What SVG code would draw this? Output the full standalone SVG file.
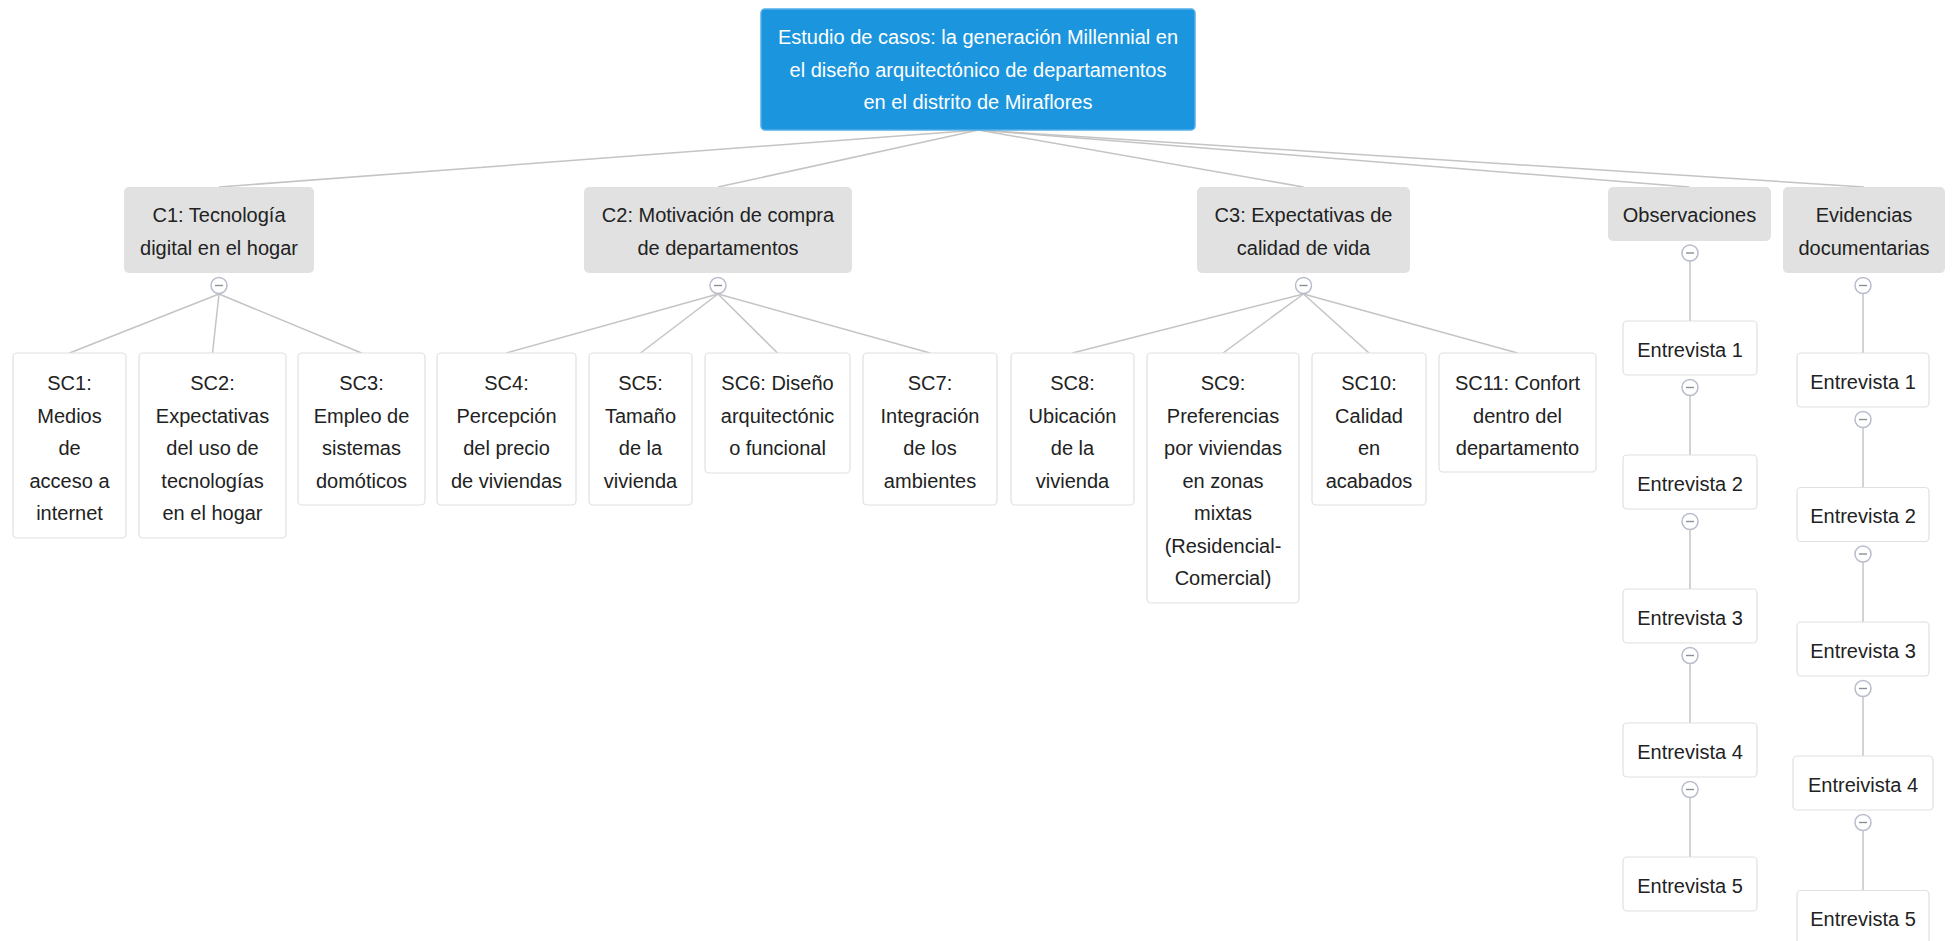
<svg xmlns="http://www.w3.org/2000/svg" width="1955" height="941" viewBox="0 0 1955 941">
<style>
  text { font-family: "Liberation Sans", Arial, sans-serif; font-size: 20px; text-anchor: middle; fill: #222; }
  .root rect { fill: #1b95dd; stroke: #52aee8; stroke-width: 1.5; }
  .root text { fill: #ffffff; }
  .cat rect { fill: #e1e1e1; stroke: none; }
  .leaf rect { fill: #ffffff; stroke: #e0e0e0; stroke-width: 1.2; }
  .conn line { stroke: #c4c4c4; stroke-width: 1.5; fill: none; }
  .tog circle { fill: #ffffff; stroke: #b8bccb; stroke-width: 1.5; }
  .tog line { stroke: #8c8f9a; stroke-width: 1.4; }
</style>
<defs>
  <g id="toggle" class="tog"><circle cx="0" cy="0" r="8"/><line x1="-4" y1="0" x2="4" y2="0"/></g>
</defs>

<g id="connectors" class="conn">
  <line x1="978.5" y1="130" x2="219" y2="187"/>
  <line x1="978.5" y1="130" x2="718" y2="187"/>
  <line x1="978.5" y1="130" x2="1303.5" y2="187"/>
  <line x1="978.5" y1="130" x2="1689.5" y2="187"/>
  <line x1="978.5" y1="130" x2="1864" y2="187"/>

  <line x1="219" y1="294" x2="69.5" y2="353"/>
  <line x1="219" y1="294" x2="212.5" y2="353"/>
  <line x1="219" y1="294" x2="361.5" y2="353"/>

  <line x1="718" y1="294" x2="506.5" y2="353"/>
  <line x1="718" y1="294" x2="640.5" y2="353"/>
  <line x1="718" y1="294" x2="777.5" y2="353"/>
  <line x1="718" y1="294" x2="930" y2="353"/>

  <line x1="1303.5" y1="294" x2="1072.5" y2="353"/>
  <line x1="1303.5" y1="294" x2="1223" y2="353"/>
  <line x1="1303.5" y1="294" x2="1369" y2="353"/>
  <line x1="1303.5" y1="294" x2="1517.5" y2="353"/>

  <line x1="1690" y1="261" x2="1690" y2="321"/>
  <line x1="1690" y1="395" x2="1690" y2="455"/>
  <line x1="1690" y1="529" x2="1690" y2="589"/>
  <line x1="1690" y1="663" x2="1690" y2="723"/>
  <line x1="1690" y1="797" x2="1690" y2="857"/>

  <line x1="1863" y1="294" x2="1863" y2="353"/>
  <line x1="1863" y1="427.5" x2="1863" y2="487.5"/>
  <line x1="1863" y1="562" x2="1863" y2="622"/>
  <line x1="1863" y1="696.5" x2="1863" y2="756"/>
  <line x1="1863" y1="830.5" x2="1863" y2="890.5"/>
</g>

<g id="root" class="root">
  <rect x="761" y="9" width="434" height="121" rx="4"/>
  <text x="978" y="44">Estudio de casos: la generación Millennial en</text>
  <text x="978" y="77">el diseño arquitectónico de departamentos</text>
  <text x="978" y="109">en el distrito de Miraflores</text>
</g>

<g id="c1" class="cat">
  <rect x="124" y="187" width="190" height="86" rx="5"/>
  <text x="219" y="222">C1: Tecnología</text>
  <text x="219" y="255">digital en el hogar</text>
  <use href="#toggle" x="219" y="285.5"/>
</g>
<g id="c2" class="cat">
  <rect x="584" y="187" width="268" height="86" rx="5"/>
  <text x="718" y="222">C2: Motivación de compra</text>
  <text x="718" y="255">de departamentos</text>
  <use href="#toggle" x="718" y="285.5"/>
</g>
<g id="c3" class="cat">
  <rect x="1197" y="187" width="213" height="86" rx="5"/>
  <text x="1303.5" y="222">C3: Expectativas de</text>
  <text x="1303.5" y="255">calidad de vida</text>
  <use href="#toggle" x="1303.5" y="285.5"/>
</g>
<g id="obs" class="cat">
  <rect x="1608" y="187" width="163" height="54" rx="5"/>
  <text x="1689.5" y="222">Observaciones</text>
  <use href="#toggle" x="1690" y="253"/>
</g>
<g id="evid" class="cat">
  <rect x="1783" y="187" width="162" height="86" rx="5"/>
  <text x="1864" y="222">Evidencias</text>
  <text x="1864" y="255">documentarias</text>
  <use href="#toggle" x="1863" y="285.5"/>
</g>

<g id="sc1" class="leaf">
  <rect x="13" y="353" width="113" height="185" rx="4"/>
  <text x="69.5" y="390">SC1:</text>
  <text x="69.5" y="422.5">Medios</text>
  <text x="69.5" y="455">de</text>
  <text x="69.5" y="487.5">acceso a</text>
  <text x="69.5" y="520">internet</text>
</g>
<g id="sc2" class="leaf">
  <rect x="139" y="353" width="147" height="185" rx="4"/>
  <text x="212.5" y="390">SC2:</text>
  <text x="212.5" y="422.5">Expectativas</text>
  <text x="212.5" y="455">del uso de</text>
  <text x="212.5" y="487.5">tecnologías</text>
  <text x="212.5" y="520">en el hogar</text>
</g>
<g id="sc3" class="leaf">
  <rect x="298" y="353" width="127" height="152" rx="4"/>
  <text x="361.5" y="390">SC3:</text>
  <text x="361.5" y="422.5">Empleo de</text>
  <text x="361.5" y="455">sistemas</text>
  <text x="361.5" y="487.5">domóticos</text>
</g>
<g id="sc4" class="leaf">
  <rect x="437" y="353" width="139" height="152" rx="4"/>
  <text x="506.5" y="390">SC4:</text>
  <text x="506.5" y="422.5">Percepción</text>
  <text x="506.5" y="455">del precio</text>
  <text x="506.5" y="487.5">de viviendas</text>
</g>
<g id="sc5" class="leaf">
  <rect x="589" y="353" width="103" height="152" rx="4"/>
  <text x="640.5" y="390">SC5:</text>
  <text x="640.5" y="422.5">Tamaño</text>
  <text x="640.5" y="455">de la</text>
  <text x="640.5" y="487.5">vivienda</text>
</g>
<g id="sc6" class="leaf">
  <rect x="705" y="353" width="145" height="120" rx="4"/>
  <text x="777.5" y="390">SC6: Diseño</text>
  <text x="777.5" y="422.5">arquitectónic</text>
  <text x="777.5" y="455">o funcional</text>
</g>
<g id="sc7" class="leaf">
  <rect x="863" y="353" width="134" height="152" rx="4"/>
  <text x="930" y="390">SC7:</text>
  <text x="930" y="422.5">Integración</text>
  <text x="930" y="455">de los</text>
  <text x="930" y="487.5">ambientes</text>
</g>
<g id="sc8" class="leaf">
  <rect x="1011" y="353" width="123" height="152" rx="4"/>
  <text x="1072.5" y="390">SC8:</text>
  <text x="1072.5" y="422.5">Ubicación</text>
  <text x="1072.5" y="455">de la</text>
  <text x="1072.5" y="487.5">vivienda</text>
</g>
<g id="sc9" class="leaf">
  <rect x="1147" y="353" width="152" height="250" rx="4"/>
  <text x="1223" y="390">SC9:</text>
  <text x="1223" y="422.5">Preferencias</text>
  <text x="1223" y="455">por viviendas</text>
  <text x="1223" y="487.5">en zonas</text>
  <text x="1223" y="520">mixtas</text>
  <text x="1223" y="552.5">(Residencial-</text>
  <text x="1223" y="585">Comercial)</text>
</g>
<g id="sc10" class="leaf">
  <rect x="1312" y="353" width="114" height="152" rx="4"/>
  <text x="1369" y="390">SC10:</text>
  <text x="1369" y="422.5">Calidad</text>
  <text x="1369" y="455">en</text>
  <text x="1369" y="487.5">acabados</text>
</g>
<g id="sc11" class="leaf">
  <rect x="1439" y="353" width="157" height="119" rx="4"/>
  <text x="1517.5" y="390">SC11: Confort</text>
  <text x="1517.5" y="422.5">dentro del</text>
  <text x="1517.5" y="455">departamento</text>
</g>

<g id="obs-e1" class="leaf">
  <rect x="1623" y="321" width="134" height="54" rx="4"/>
  <text x="1690" y="356.5">Entrevista 1</text>
  <use href="#toggle" x="1690" y="387.5"/>
</g>
<g id="obs-e2" class="leaf">
  <rect x="1623" y="455" width="134" height="54" rx="4"/>
  <text x="1690" y="490.5">Entrevista 2</text>
  <use href="#toggle" x="1690" y="521.5"/>
</g>
<g id="obs-e3" class="leaf">
  <rect x="1623" y="589" width="134" height="54" rx="4"/>
  <text x="1690" y="624.5">Entrevista 3</text>
  <use href="#toggle" x="1690" y="655.5"/>
</g>
<g id="obs-e4" class="leaf">
  <rect x="1623" y="723" width="134" height="54" rx="4"/>
  <text x="1690" y="758.5">Entrevista 4</text>
  <use href="#toggle" x="1690" y="789.5"/>
</g>
<g id="obs-e5" class="leaf">
  <rect x="1623" y="857" width="134" height="54" rx="4"/>
  <text x="1690" y="892.5">Entrevista 5</text>
</g>

<g id="evid-e1" class="leaf">
  <rect x="1797" y="353" width="132" height="54" rx="4"/>
  <text x="1863" y="388.5">Entrevista 1</text>
  <use href="#toggle" x="1863" y="419.5"/>
</g>
<g id="evid-e2" class="leaf">
  <rect x="1797" y="487.5" width="132" height="54" rx="4"/>
  <text x="1863" y="523">Entrevista 2</text>
  <use href="#toggle" x="1863" y="554"/>
</g>
<g id="evid-e3" class="leaf">
  <rect x="1797" y="622" width="132" height="54" rx="4"/>
  <text x="1863" y="657.5">Entrevista 3</text>
  <use href="#toggle" x="1863" y="688.5"/>
</g>
<g id="evid-e4" class="leaf">
  <rect x="1793" y="756" width="140" height="54" rx="4"/>
  <text x="1863" y="791.5">Entreivista 4</text>
  <use href="#toggle" x="1863" y="822.5"/>
</g>
<g id="evid-e5" class="leaf">
  <rect x="1797" y="890.5" width="132" height="54" rx="4"/>
  <text x="1863" y="926">Entrevista 5</text>
</g>
</svg>
